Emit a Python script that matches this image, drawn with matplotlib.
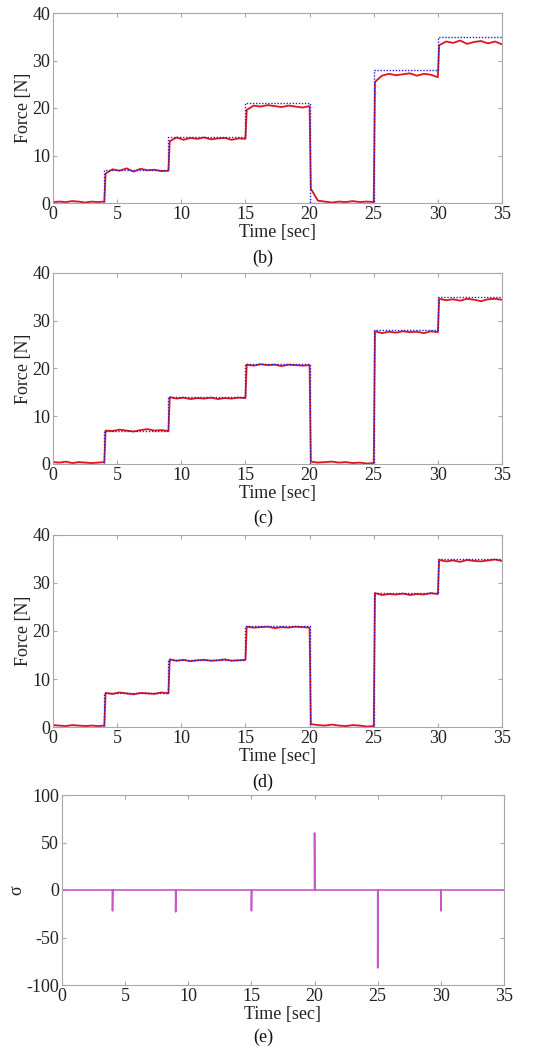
import numpy as np
import matplotlib
matplotlib.use("Agg")
import matplotlib.pyplot as plt

plt.rcParams['font.family'] = ['Liberation Serif', 'DejaVu Serif']
plt.rcParams['font.size'] = 13
plt.rcParams['axes.unicode_minus'] = False

# reference force (blue dotted) - step changes
ref_t = [0, 4, 9, 15, 20, 25, 30, 35]
ref_f = [0, 7, 14, 21, 0, 28, 35, 35]

# measured force (red), values read per segment, ~0.5 s apart
seg_edges = [0, 4, 9, 15, 20, 25, 30, 35]

force_b = [
    [0.2, 0.3, 0.2, 0.4, 0.3, 0.1, 0.3, 0.2, 0.3],
    [6.2, 7.1, 6.8, 7.3, 6.6, 7.2, 6.9, 7.0, 6.7, 6.8],
    [13.0, 13.8, 13.3, 13.7, 13.5, 13.8, 13.4, 13.6, 13.7, 13.3, 13.6, 13.5],
    [19.6, 20.5, 20.3, 20.6, 20.4, 20.2, 20.5, 20.3, 20.1, 20.4],
    [3.0, 0.5, 0.3, 0.1, 0.3, 0.2, 0.4, 0.2, 0.3, 0.2],
    [25.5, 26.8, 27.2, 26.9, 27.1, 27.3, 26.8, 27.2, 27.0, 26.5],
    [33.2, 34.0, 33.7, 34.2, 33.5, 33.9, 34.1, 33.6, 34.0, 33.4],
]
force_c = [
    [0.4, 0.3, 0.5, 0.2, 0.4, 0.3, 0.2, 0.3, 0.4],
    [7.0, 6.9, 7.2, 7.0, 6.8, 7.1, 7.3, 7.0, 7.1, 6.9],
    [14.0, 13.7, 13.9, 13.6, 13.8, 13.7, 13.9, 13.6, 13.8, 13.7, 13.9, 13.8],
    [20.8, 20.6, 20.9, 20.7, 20.8, 20.5, 20.8, 20.7, 20.6, 20.7],
    [0.5, 0.3, 0.4, 0.5, 0.3, 0.4, 0.2, 0.3, 0.1, 0.2],
    [27.8, 27.4, 27.7, 27.5, 27.8, 27.6, 27.7, 27.4, 27.8, 27.6],
    [34.6, 34.3, 34.5, 34.2, 34.6, 34.4, 34.1, 34.5, 34.6, 34.4],
]
force_d = [
    [0.4, 0.3, 0.2, 0.4, 0.3, 0.2, 0.3, 0.2, 0.3],
    [7.1, 6.9, 7.2, 7.0, 6.8, 7.1, 7.0, 6.9, 7.2, 7.0],
    [14.1, 13.8, 14.0, 13.7, 13.9, 14.0, 13.8, 13.9, 14.1, 13.8, 13.9, 14.0],
    [20.9, 20.7, 20.8, 20.9, 20.6, 20.8, 20.7, 20.9, 20.8, 20.7],
    [0.6, 0.4, 0.3, 0.5, 0.3, 0.2, 0.4, 0.3, 0.1, 0.2],
    [27.9, 27.5, 27.7, 27.6, 27.8, 27.5, 27.7, 27.6, 27.9, 27.7],
    [34.8, 34.5, 34.7, 34.4, 34.8, 34.6, 34.5, 34.7, 34.9, 34.6],
]

# sliding variable sigma: spikes at the step instants
spike_t = [4, 9, 15, 20, 25, 30]
spike_v = [-22, -23, -22, 60, -82, -22]

captions = ['(b)', '(c)', '(d)', '(e)']


def build_series(segs):
    t_all, f_all = [], []
    for k, vals in enumerate(segs):
        a, b = seg_edges[k], seg_edges[k + 1]
        start = a if k == 0 else a + 0.1
        t_all.append(np.linspace(start, b, len(vals)))
        f_all.append(vals)
    return np.concatenate(t_all), np.concatenate(f_all)


def style_axes(ax):
    for s in ax.spines.values():
        s.set_color('#a8a8a8')
        s.set_linewidth(0.8)
    ax.tick_params(direction='in', top=True, right=True, length=3,
                   color='#a8a8a8', labelcolor='#222222', pad=2)
    ax.set_xlim(0, 35)
    ax.set_xticks([0, 5, 10, 15, 20, 25, 30, 35])
    ax.set_xlabel('Time [sec]', color='#222222', labelpad=1)


W, H = 557, 1051
fig = plt.figure(figsize=(W / 100, H / 100), dpi=100)

# axes boxes in pixels: left, top, right, bottom
boxes = [(53, 13, 502, 203), (53, 273, 502, 464), (53, 535, 502, 727), (62, 795, 504, 985)]
cap_y = [258, 518, 782, 1037]

for i, segs in enumerate([force_b, force_c, force_d]):
    l, t, r, b = boxes[i]
    ax = fig.add_axes([l / W, 1 - b / H, (r - l) / W, (b - t) / H])
    tt, ff = build_series(segs)
    ax.plot(tt, ff, color='#e0141c', lw=1.3)
    ax.step(ref_t, ref_f, where='post', color='#2020e0', lw=1.0, linestyle=(0, (1, 1.2)))
    ax.set_ylim(0, 40)
    ax.set_yticks([0, 10, 20, 30, 40])
    ax.set_ylabel('Force [N]', color='#222222', labelpad=0)
    style_axes(ax)

# sigma panel
l, t, r, b = boxes[3]
ax = fig.add_axes([l / W, 1 - b / H, (r - l) / W, (b - t) / H])
st, sv = [0], [0]
for ts, vs in zip(spike_t, spike_v):
    st += [ts, ts, ts + 0.02]
    sv += [0, vs, 0]
st.append(35)
sv.append(0)
ax.plot(st, sv, color='#c858c8', lw=1.2)
ax.set_ylim(-100, 100)
ax.set_yticks([-100, -50, 0, 50, 100])
ax.set_ylabel('σ', color='#222222', labelpad=1)
style_axes(ax)

for i, c in enumerate(captions):
    fig.text(263 / W, 1 - cap_y[i] / H, c, ha='center', va='center', color='#111111', fontsize=13)

fig.savefig('out.png', dpi=100)
